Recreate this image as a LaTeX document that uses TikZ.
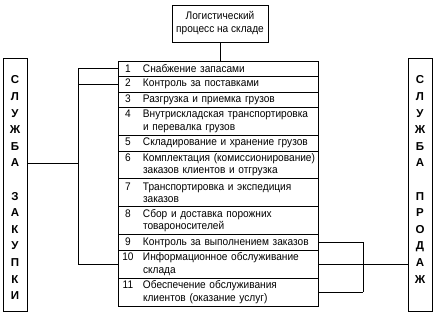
\documentclass[tikz,border=0pt]{standalone}
\usepackage{fontspec}
\setmainfont{Liberation Sans}
\newfontfamily\rowfont[FakeStretch=0.92]{Liberation Sans}
\newcommand{\rnum}[1]{\makebox[22pt][l]{\makebox[14pt][c]{#1}}}
\newcommand{\rind}{\hspace*{22pt}}
\begin{document}
\begin{tikzpicture}[x=1pt,y=-1pt,
  line width=0.8pt,
  every node/.style={font=\rowfont\fontsize{11}{12.5}\selectfont},
  rowbox/.style={draw, anchor=north west, inner xsep=3pt, inner ysep=0pt, outer sep=0pt,
    text width=194pt, align=left, minimum width=200pt},
  onerow/.style={rowbox, minimum height=15.5pt},
  tworow/.style={rowbox, minimum height=27.9pt},
  sidebox/.style={draw, minimum width=24pt, minimum height=253pt, inner sep=0pt, outer sep=0pt},
  sidetext/.style={anchor=north, inner sep=0pt, align=center,
    font=\fontsize{11.5}{16.6}\selectfont\bfseries},
  topbox/.style={draw, minimum width=96pt, minimum height=37pt, align=center, inner sep=2pt, outer sep=0pt,
    font=\rowfont\fontsize{11}{13}\selectfont}
  ]
\useasboundingbox (0,0) rectangle (437,319);

\node[topbox] (T) at (220,23.5) {Логистический\\процесс на складе};

\node[onerow] (r1) at (118,61) {\rnum{1}Снабжение запасами};
\node[onerow] (r2) at (r1.south west) {\rnum{2}Контроль за поставками};
\node[onerow] (r3) at (r2.south west) {\rnum{3}Разгрузка и приемка грузов};
\node[tworow] (r4) at (r3.south west) {\rnum{4}Внутрискладская транспортировка\\\rind и перевалка грузов};
\node[onerow] (r5) at (r4.south west) {\rnum{5}Складирование и хранение грузов};
\node[tworow] (r6) at (r5.south west) {\rnum{6}Комплектация (комиссионирование)\\\rind заказов клиентов и отгрузка};
\node[tworow] (r7) at (r6.south west) {\rnum{7}Транспортировка и экспедиция\\\rind заказов};
\node[tworow] (r8) at (r7.south west) {\rnum{8}Сбор и доставка порожних\\\rind товароносителей};
\node[onerow] (r9) at (r8.south west) {\rnum{9}Контроль за выполнением заказов};
\node[tworow] (r10) at (r9.south west) {\rnum{10}Информационное обслуживание\\\rind склада};
\node[tworow] (r11) at (r10.south west) {\rnum{11}Обеспечение обслуживания\\\rind клиентов (оказание услуг)};

\node[sidebox] (L) at (15,184.5) {};
\node[sidetext] (Lt) at (15,75.5) {С\\Л\\У\\Ж\\Б\\А\\[16.6pt]З\\А\\К\\У\\П\\К\\И};
\node[sidebox] (R) at (420,184.5) {};
\node[sidetext] (Rt) at (420,75.5) {С\\Л\\У\\Ж\\Б\\А\\[16.6pt]П\\Р\\О\\Д\\А\\Ж};

% top connector
\draw (T.south) -- (T.south |- r1.north);

% left connectors
\draw (r1.west) -- ++(-40,0) coordinate (la);
\draw (r2.west) -- (r2.west -| la);
\draw (r10.west) -- (r10.west -| la) coordinate (lb);
\draw (la) -- (lb);
\coordinate (lj) at (78,163);
\draw (lj) -- (lj -| L.east);

% right connectors
\draw (r9.east) -- ++(45,0) coordinate (ra);
\draw (r11.east) -- (r11.east -| ra) coordinate (rb);
\draw (ra) -- (rb);
\draw (r10.east) -- (r10.east -| R.west);
\end{tikzpicture}
\end{document}
